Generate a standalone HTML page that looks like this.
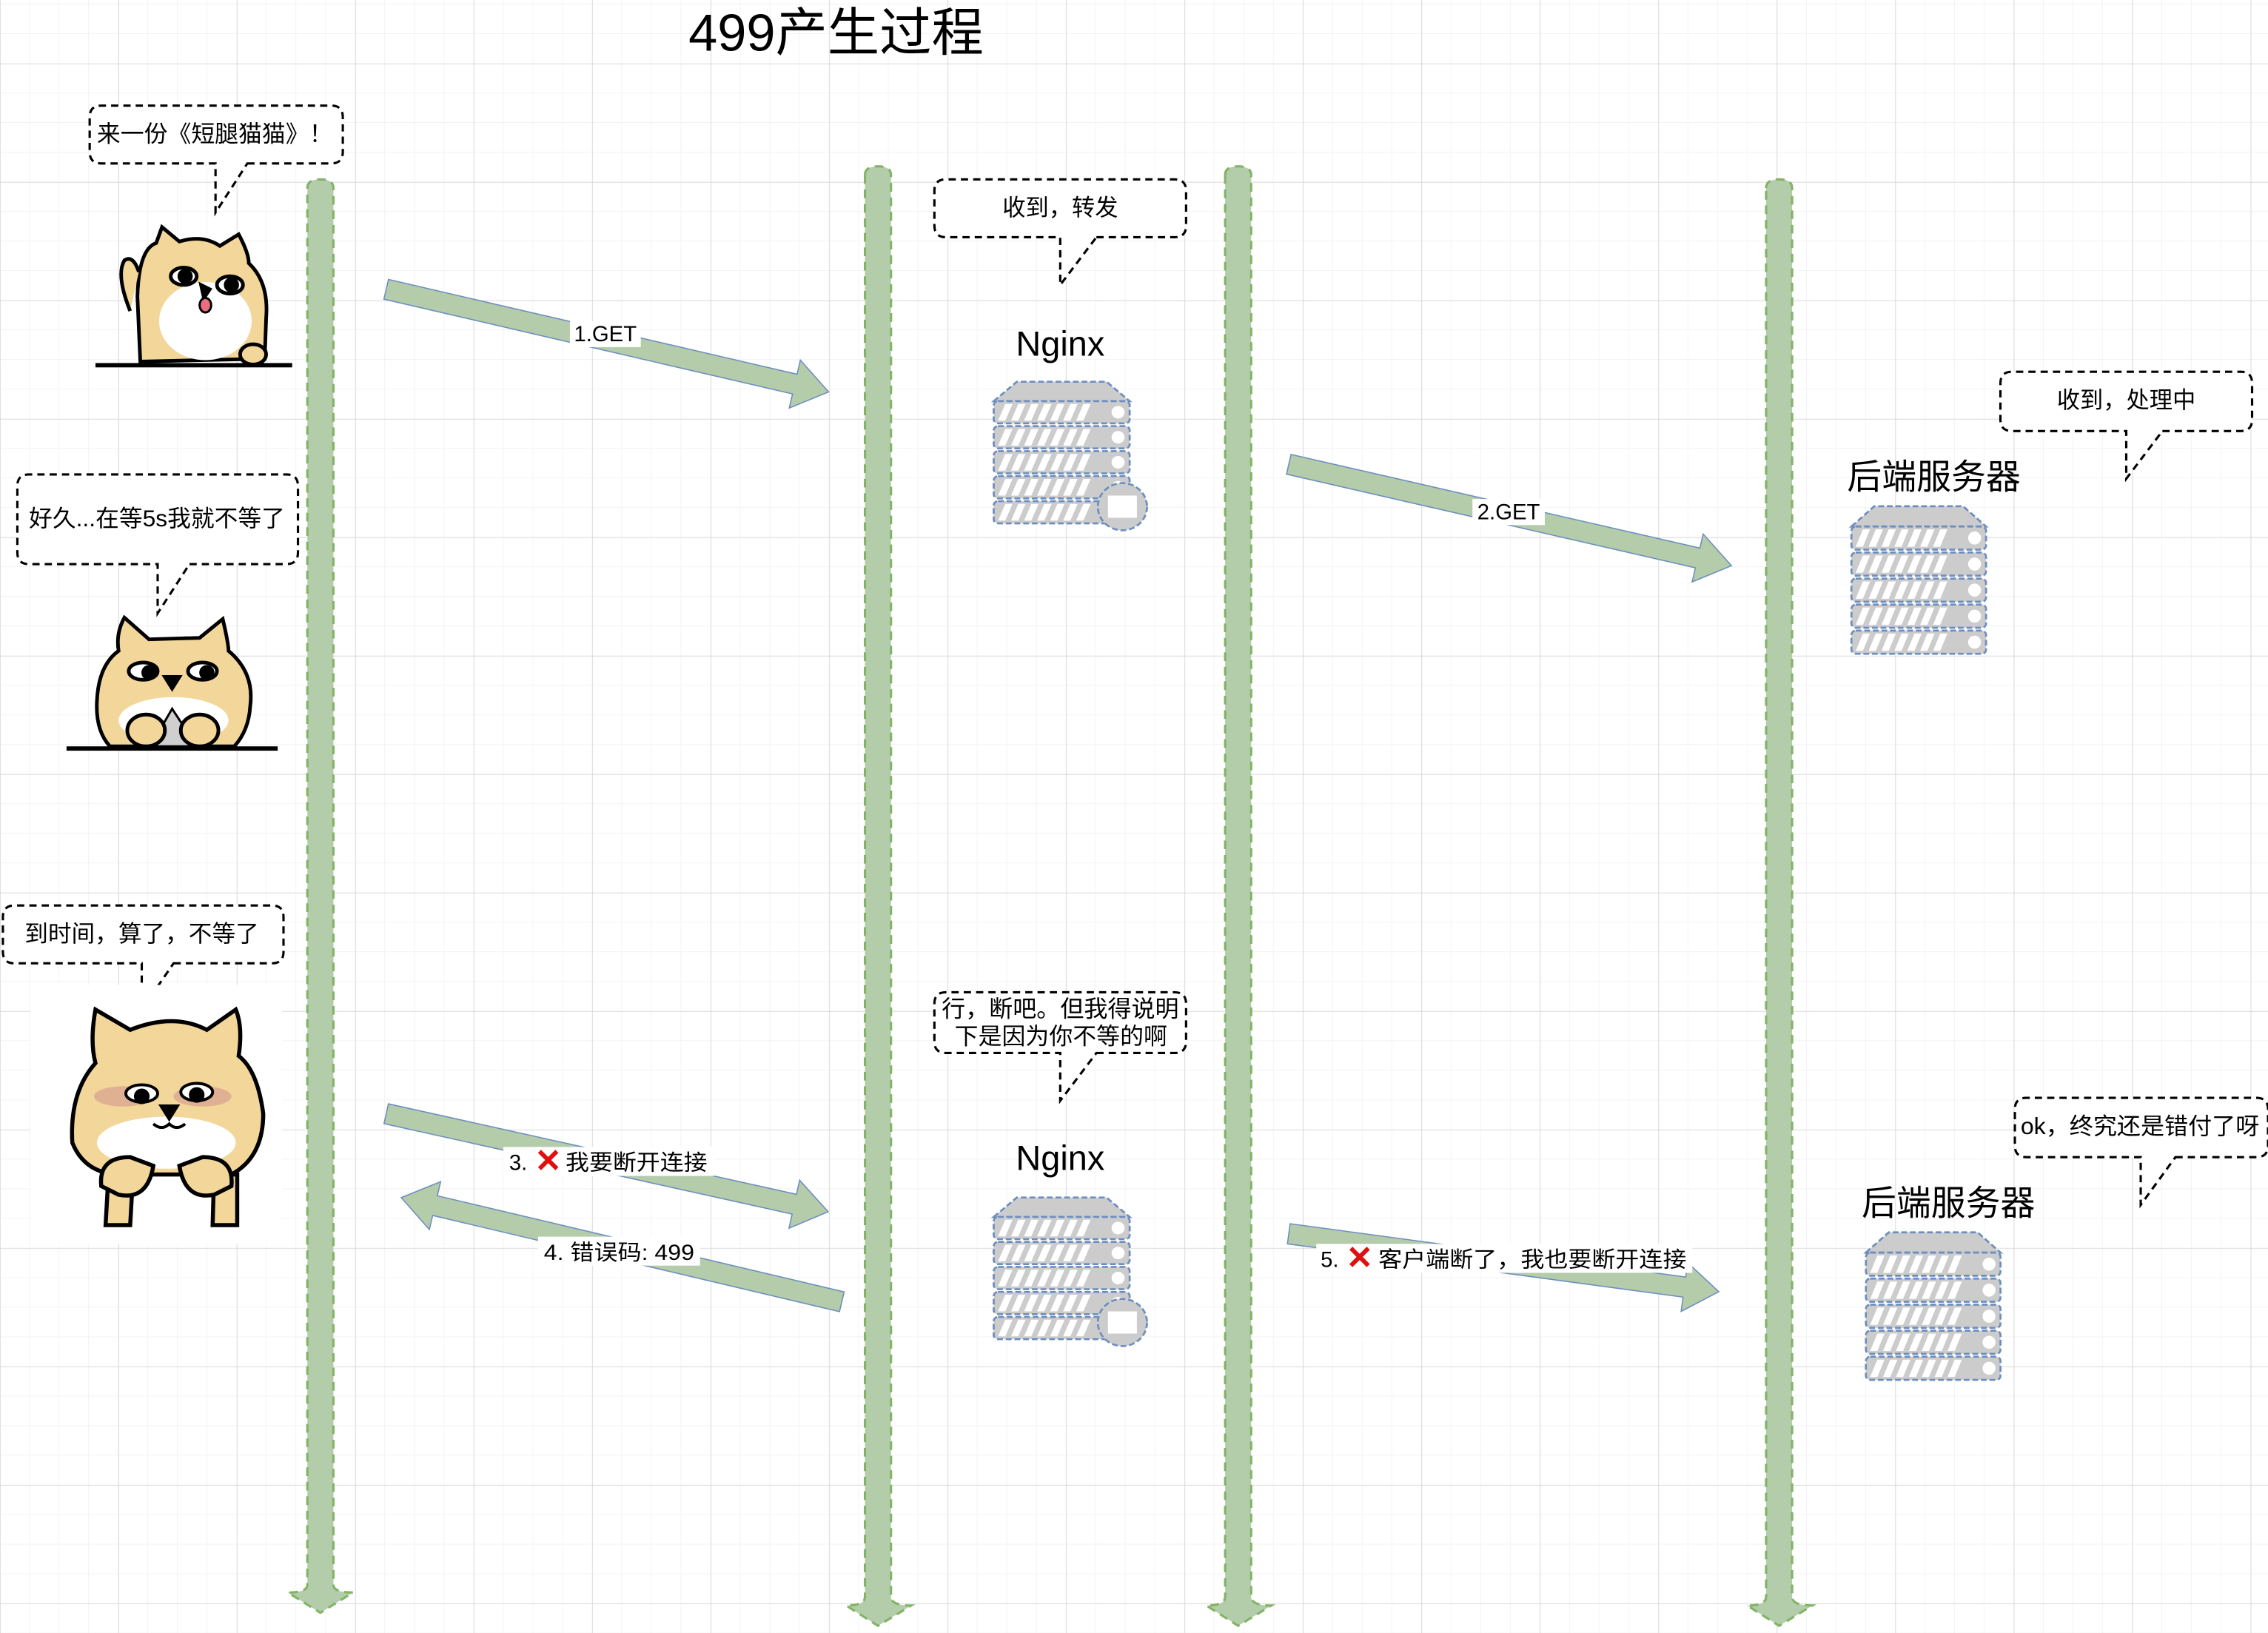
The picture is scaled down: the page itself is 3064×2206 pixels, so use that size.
<!DOCTYPE html>
<html><head><meta charset="utf-8"><style>
html,body{margin:0;padding:0;background:#fff;}
svg{display:block;}
text{font-family:"Liberation Sans","Noto Sans CJK SC",sans-serif;}
</style></head><body>
<svg width="3064" height="2206" viewBox="0 0 1568 1129" preserveAspectRatio="none" xmlns="http://www.w3.org/2000/svg">
<defs>
<pattern id="minor" width="20.475" height="20.475" patternUnits="userSpaceOnUse" x="0" y="3.05">
<path d="M20.475 0V20.475M0 20.475H20.475" stroke="#ececec" stroke-width="0.6" fill="none"/>
</pattern>
<pattern id="major" width="81.9" height="81.9" patternUnits="userSpaceOnUse" x="0" y="44">
<path d="M0 0V81.9M0 0H81.9" stroke="#d2d2d2" stroke-width="0.7" fill="none"/>
</pattern>
<g id="row">
<rect x="0" y="0" width="94" height="16" rx="3" fill="#cccccc" stroke="#6c8ebf" stroke-width="1.4" stroke-dasharray="4 2"/>
<g fill="#fff">
<polygon points="8,2 13,2 8,14 3,14"/><polygon points="17,2 22,2 17,14 12,14"/><polygon points="26,2 31,2 26,14 21,14"/><polygon points="35,2 40,2 35,14 30,14"/><polygon points="44,2 49,2 44,14 39,14"/><polygon points="53,2 58,2 53,14 48,14"/><polygon points="62,2 67,2 62,14 57,14"/>
<circle cx="86" cy="8" r="4.5"/>
</g>
</g>
<g id="srv">
<path d="M0 16 L16 2 L78 2 L94 16 Z" fill="#cccccc" stroke="#6c8ebf" stroke-width="1.4" stroke-dasharray="4 2"/>
<use href="#row" y="16"/><use href="#row" y="34"/><use href="#row" y="52"/><use href="#row" y="70"/><use href="#row" y="88"/>
</g>
<g id="nginx">
<use href="#srv"/>
<circle cx="89" cy="92" r="17" fill="#cccccc" stroke="#6c8ebf" stroke-width="1.4" stroke-dasharray="4 2"/>
<rect x="79" y="84" width="20" height="16" fill="#fff"/>
</g>
</defs>
<rect width="1568" height="1129" fill="#fff"/>
<rect width="1568" height="1129" fill="url(#minor)"/>
<rect width="1568" height="1129" fill="url(#major)"/>

<text x="578" y="35" font-size="36" text-anchor="middle" fill="#000">499产生过程</text>

<g fill="#b3cca9" stroke="#82b366" stroke-width="1.6" stroke-dasharray="6 4">
<path d="M212.5 130 Q212.5 124 221.5 124 Q230.5 124 230.5 130 L230.5 1096 Q231 1101 244 1101 L221.5 1115 L199 1101 Q212 1101 212.5 1096 Z"/>
<path d="M598 121 Q598 115 607 115 Q616 115 616 121 L616 1104 Q616 1110 630 1110 L607 1124 L585 1110 Q598 1110 598 1104 Z"/>
<path d="M847 121 Q847 115 856 115 Q865 115 865 121 L865 1104 Q865 1110 879 1110 L856 1124 L834 1110 Q847 1110 847 1104 Z"/>
<path d="M1221 130 Q1221 124 1230 124 Q1239 124 1239 130 L1239 1104 Q1239 1110 1253 1110 L1230 1124 L1208 1110 Q1221 1110 1221 1104 Z"/>
</g>

<g fill="#b5ccab" stroke="#6c8ebf" stroke-width="0.8">
<polygon transform="translate(267,200) rotate(13.06)" points="0,-7 290,-7 290,-17 314,0 290,17 290,7 0,7"/>
<polygon transform="translate(891,321) rotate(12.9)" points="0,-7 290,-7 290,-17 314,0 290,17 290,7 0,7"/>
<polygon transform="translate(267,770) rotate(12.5)" points="0,-7 289,-7 289,-17 313,0 289,17 289,7 0,7"/>
<polygon transform="translate(582,900) rotate(193.3)" points="0,-7 289,-7 289,-17 313,0 289,17 289,7 0,7"/>
<polygon transform="translate(891,853) rotate(7.67)" points="0,-7 276,-7 276,-17 300,0 276,17 276,7 0,7"/>
</g>

<g font-size="15" fill="#000">
<rect x="394" y="222" width="49" height="18" fill="#fff"/>
<text x="418.5" y="236" text-anchor="middle">1.GET</text>
<rect x="1018" y="345" width="50" height="18" fill="#fff"/>
<text x="1043" y="359" text-anchor="middle">2.GET</text>
<rect x="348" y="793" width="146" height="20" fill="#fff"/>
<text x="352" y="809">3.</text>
<path d="M373 796 L385 808 M385 796 L373 808" stroke="#e01010" stroke-width="3"/>
<text x="391" y="809" textLength="98" lengthAdjust="spacingAndGlyphs">我要断开连接</text>
<rect x="372" y="855" width="112" height="20" fill="#fff"/>
<text x="376" y="871" textLength="104" lengthAdjust="spacingAndGlyphs">4. 错误码: 499</text>
<rect x="910" y="860" width="260" height="20" fill="#fff"/>
<text x="913" y="876">5.</text>
<path d="M934 863 L946 875 M946 863 L934 875" stroke="#e01010" stroke-width="3"/>
<text x="953" y="876" textLength="213" lengthAdjust="spacingAndGlyphs">客户端断了，我也要断开连接</text>
</g>

<g fill="#fff" stroke="#000" stroke-width="1.6" stroke-dasharray="5 3.5">
<path d="M171 113 L229 113 Q237 113 237 105 L237 81 Q237 73 229 73 L70 73 Q62 73 62 81 L62 105 Q62 113 70 113 L149 113 L149 147 Z"/>
<path d="M131 390 L198 390 Q206 390 206 382 L206 336 Q206 328 198 328 L20 328 Q12 328 12 336 L12 382 Q12 390 20 390 L109 390 L109 424 Z"/>
<path d="M120 666 L188 666 Q196 666 196 658 L196 634 Q196 626 188 626 L10 626 Q2 626 2 634 L2 658 Q2 666 10 666 L98 666 L98 698 Z"/>
<path d="M758 164 L812 164 Q820 164 820 156 L820 132 Q820 124 812 124 L654 124 Q646 124 646 132 L646 156 Q646 164 654 164 L733 164 L733 197 Z"/>
<path d="M1495 298 L1549 298 Q1557 298 1557 290 L1557 265 Q1557 257 1549 257 L1391 257 Q1383 257 1383 265 L1383 290 Q1383 298 1391 298 L1470 298 L1470 331 Z"/>
<path d="M758 728 L812 728 Q820 728 820 720 L820 694 Q820 686 812 686 L654 686 Q646 686 646 694 L646 720 Q646 728 654 728 L733 728 L733 761 Z"/>
<path d="M1504 800 L1560 800 Q1568 800 1568 792 L1568 767 Q1568 759 1560 759 L1401 759 Q1393 759 1393 767 L1393 792 Q1393 800 1401 800 L1480 800 L1480 833 Z"/>
</g>
<g font-size="16" fill="#000">
<text x="67" y="98" textLength="163" lengthAdjust="spacingAndGlyphs">来一份《短腿猫猫》！</text>
<text x="20" y="364" textLength="177" lengthAdjust="spacingAndGlyphs">好久...在等5s我就不等了</text>
<text x="17" y="651" textLength="162" lengthAdjust="spacingAndGlyphs">到时间，算了，不等了</text>
<text x="733" y="149" text-anchor="middle">收到，转发</text>
<text x="1470" y="282" text-anchor="middle">收到，处理中</text>
<text x="651" y="703" textLength="164" lengthAdjust="spacingAndGlyphs">行，断吧。但我得说明</text>
<text x="660" y="722" textLength="147" lengthAdjust="spacingAndGlyphs">下是因为你不等的啊</text>
<text x="1397" y="784" textLength="165" lengthAdjust="spacingAndGlyphs">ok，终究还是错付了呀</text>
</g>

<text x="733" y="246" font-size="24" text-anchor="middle">Nginx</text>
<use href="#nginx" transform="translate(687,262) scale(1,0.96)"/>
<text x="733" y="809" font-size="24" text-anchor="middle">Nginx</text>
<use href="#nginx" transform="translate(687,826) scale(1,0.96)"/>
<text x="1337" y="338" font-size="24" text-anchor="middle">后端服务器</text>
<use href="#srv" transform="translate(1280,348) scale(0.99,1)"/>
<text x="1347" y="840" font-size="24" text-anchor="middle">后端服务器</text>
<use href="#srv" transform="translate(1290,850) scale(0.99,1)"/>

<!-- dog 1 -->
<g stroke="#000" stroke-width="2.5">
<path d="M97 250 L95 205 Q96 172 108 168 L112 157 L124 167 Q140 162 152 170 L165 162 Q172 175 172 182 Q186 195 184 220 L183 248 Z" fill="#f2d69a"/>
<path d="M90 215 Q80 190 86 180 Q92 176 96 188" fill="#f2d69a"/>
<ellipse cx="142" cy="222" rx="32" ry="27" fill="#fff" stroke="none"/>
<ellipse cx="127" cy="191" rx="9" ry="6" fill="#fff"/><circle cx="128" cy="191" r="4" fill="#000"/>
<ellipse cx="159" cy="197" rx="9" ry="6" fill="#fff"/><circle cx="160" cy="197" r="4" fill="#000"/>
<path d="M139 197 L145 200 L141 206 Z" fill="#000"/>
<ellipse cx="142" cy="211" rx="4" ry="5" fill="#e86f7e" stroke-width="1.5"/>
<ellipse cx="175" cy="245" rx="9" ry="7" fill="#f2d69a"/>
</g>
<rect x="66" y="251" width="136" height="3" fill="#000"/>

<!-- dog 2 -->
<g stroke="#000" stroke-width="2.5">
<path d="M86 427 L103 442 L138 441 L154 428 Q158 445 158 450 Q176 465 173 488 Q172 505 162 516 L76 516 Q66 505 67 485 Q68 460 82 450 Q80 438 86 427 Z" fill="#f2d69a"/>
<ellipse cx="120" cy="498" rx="38" ry="16" fill="#fff" stroke="none"/>
<path d="M104 516 L119 490 L136 516 Z" fill="#cfcfcf" stroke-width="1.5"/>
<ellipse cx="99" cy="464" rx="10" ry="6" fill="#fff"/><circle cx="103" cy="465" r="4" fill="#000"/>
<ellipse cx="140" cy="464" rx="10" ry="6" fill="#fff"/><circle cx="143" cy="465" r="4" fill="#000"/>
<path d="M114 468 L124 468 L119 476 Z" fill="#000"/>
<ellipse cx="101" cy="505" rx="13" ry="11" fill="#f2d69a"/>
<ellipse cx="138" cy="505" rx="13" ry="11" fill="#f2d69a"/>
</g>
<rect x="46" y="516" width="146" height="3" fill="#000"/>

<!-- dog 3 -->
<rect x="21" y="681" width="174" height="179" fill="#fff"/>
<g stroke="#000" stroke-width="2.8">
<path d="M75 812 L73 847 L90 847 L92 812 Z M148 812 L147 847 L164 847 L164 812 Z" fill="#f2d69a"/>
<path d="M66 698 Q62 720 66 735 Q48 755 50 790 Q58 810 80 812 L160 812 Q182 800 182 770 Q178 740 165 730 Q168 710 163 698 L143 712 Q120 700 90 712 Z" fill="#f2d69a"/>
<ellipse cx="115" cy="790" rx="48" ry="18" fill="#fff" stroke="none"/>
<ellipse cx="85" cy="758" rx="20" ry="7" fill="#d9a090" stroke="none" opacity="0.7"/>
<ellipse cx="140" cy="758" rx="20" ry="7" fill="#d9a090" stroke="none" opacity="0.7"/>
<ellipse cx="98" cy="756" rx="11" ry="6" fill="#fff" stroke-width="2"/><circle cx="98" cy="758" r="4" fill="#000"/>
<ellipse cx="136" cy="755" rx="11" ry="6" fill="#fff" stroke-width="2"/><circle cx="136" cy="757" r="4" fill="#000"/>
<path d="M112 765 L122 765 L117 773 Z" fill="#000"/>
<path d="M106 777 Q112 782 117 777 Q122 782 128 777" fill="none" stroke-width="2"/>
<path d="M70 820 Q68 800 90 800 L106 806 Q102 830 82 826 Z" fill="#f2d69a"/>
<path d="M160 820 Q162 800 140 800 L124 806 Q128 830 148 826 Z" fill="#f2d69a"/>
</g>
</svg>
</body></html>
